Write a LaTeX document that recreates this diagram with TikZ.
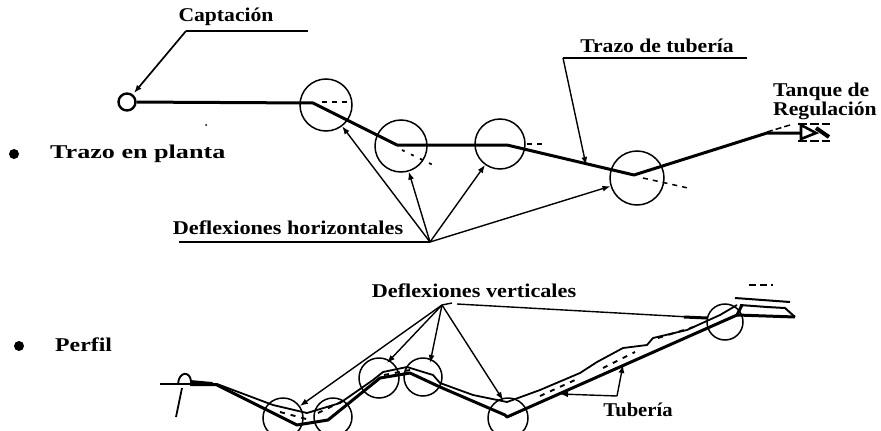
\documentclass[tikz,border=0pt]{standalone}
\usepackage{fontspec}
\setmainfont{Liberation Serif}[BoldFont={Liberation Serif Bold}]
\usetikzlibrary{arrows.meta}
\tikzset{
  x=1pt,y=-1pt,
  lbl/.style={font=\fontsize{19.5}{19}\selectfont\bfseries\addfontfeature{FakeStretch=#1},inner sep=0pt,anchor=center,text=black},
  bend/.style={circle,draw=black,line width=1.5pt,minimum size=#1,inner sep=0pt},
  pipe/.style={line width=3pt,line join=round,black},
  thinpipe/.style={line width=1.8pt,line join=round,black},
  lead/.style={line width=1.4pt,black},
  pointer/.style={lead,-{Latex[length=8pt,width=6pt]}},
  tang/.style={line width=1.5pt,dash pattern=on 5pt off 5pt,black},
  blt/.style={circle,fill=black,minimum size=10pt,inner sep=0pt},
  fleck/.style={line width=1.9pt,dash pattern=on 5pt off 6pt,black}
}
\begin{document}
\begin{tikzpicture}
\useasboundingbox (0,0) rectangle (881,431);
% labels
\node[lbl=1.11] (capt) at (226,17) {Captación};
\node[lbl=1.11] (traz) at (657,46) {Trazo de tubería};
\node[lbl=1.11,align=left,anchor=west] (tanq) at (773,101) {Tanque de\\Regulación};
\node[blt] (b1) at (14,154) {};
\node[lbl=1.34,anchor=west] (plan) at (50,154) {Trazo en planta};
\node[lbl=1.14] (dhor) at (288,228) {Deflexiones horizontales};
\node[blt] (b2) at (19,346) {};
\node[lbl=1.22,anchor=west] (perf) at (55,345) {Perfil};
\node[lbl=1.14] (dver) at (474,291) {Deflexiones verticales};
\node[lbl=1.06] (tube) at (638,410) {Tubería};
% plan view
\node[circle,draw=black,line width=2.4pt,minimum width=17pt,minimum height=11pt,inner sep=0pt] (src) at (127,102) {};
\node[bend=52pt] (p1) at (326,105) {};
\node[bend=52pt] (p2) at (401,146) {};
\node[bend=50pt] (p3) at (500,144) {};
\node[bend=54pt] (p4) at (637,178) {};
\coordinate (tk) at (800,133);
\draw[pipe] (src) -- (313,103) -- (397,145) -- (507,145) -- (634,175) -- (767,133) -- (tk);
\draw[tang] (322,102) -- (349,102);
\draw[tang,line width=1.7pt,dash pattern=on 3pt off 7pt] (402,150) -- (433,165);
\draw[tang] (527,144) -- (545,144);
\draw[tang] (643,178) -- (688,188);
% tank
\draw[line width=2.6pt,black] (801,125) -- (801,139) -- (816,133) -- cycle;
\draw[line width=2pt,dash pattern=on 9pt off 3pt] (798,124) -- (830,124);
\draw[line width=2pt,dash pattern=on 9pt off 3pt] (798,141) -- (830,141);
\draw[line width=4pt] (816,128) -- (829,137);
\draw[line width=1.5pt,dash pattern=on 6pt off 3pt] (767,132) -- (790,125);
% plan leaders
\coordinate (fanA) at (430,242);
\coordinate (baseA) at (179,242);
\coordinate (cA1) at (186,31);
\coordinate (cA2) at (308,31);
\coordinate (cAt) at (134,93);
\draw[lead] (cA2) -- (cA1);
\draw[pointer,line width=1.7pt] (cA1) -- (cAt);
\coordinate (tA1) at (563,58);
\coordinate (tA2) at (747,58);
\coordinate (tAt) at (586,165);
\draw[lead] (tA2) -- (tA1);
\draw[pointer] (tA1) -- (tAt);
\draw[lead] (baseA) -- (fanA);
\draw[pointer] (fanA) -- (p1);
\draw[pointer] (fanA) -- (p2);
\draw[pointer] (fanA) -- (p3);
\draw[pointer] (fanA) -- (p4);
\fill (206,125) circle (1pt);
% profile
\node[bend=40pt] (v1) at (283,418) {};
\node[bend=38pt] (v2) at (333,417) {};
\node[bend=40pt] (v3) at (379,378) {};
\node[bend=38pt] (v4) at (423,377) {};
\node[bend=40pt] (v5) at (508,418) {};
\node[bend=36pt] (v6) at (725,322) {};
% pipe lower
\draw[pipe] (217,385) -- (297,425) -- (328,420) -- (380,378) -- (410,373) -- (440,387) -- (505,415) -- (507,417) -- (737,315) -- (742,305);
% ground upper
\draw[thinpipe] (160,384) -- (217,384) -- (273,405) -- (307,413) -- (340,403) -- (373,380) -- (383,372) -- (407,367) -- (433,375) -- (440,383) -- (473,395) -- (507,402) -- (540,390) -- (580,373) -- (597,362) -- (623,348) -- (647,345) -- (653,338) -- (687,330) -- (720,315) -- (737,305);
% hump at start
\draw[line width=1.9pt] (178,384) .. controls (179,371) and (190,371) .. (191,381);
\draw[line width=1.8pt] (182,388) -- (176,417);
\fill (190,380) -- (212,382) -- (218,386) -- (190,386) -- cycle;
% flecks between lines
\draw[fleck] (280,412) -- (310,420);
\draw[fleck] (318,413) -- (345,400);
\draw[fleck] (384,375) -- (410,370);
\draw[fleck] (540,396) -- (575,380);
\draw[fleck] (603,368) -- (635,352);
\draw[fleck] (658,338) -- (700,325);
% right tank
\draw[line width=2pt,line join=round] (740,305) -- (767,307) -- (785,308) -- (795,317);
\draw[pipe] (795,317) -- (737,315);
\draw[line width=2pt] (735,298) -- (790,302);
\draw[line width=1.5pt,dash pattern=on 7pt off 4pt] (749,285) -- (773,285);
% profile leaders
\coordinate (fanB) at (442,305);
\coordinate (fanBr) at (457,304);
\coordinate (vEnd) at (707,318);
\coordinate (vThick) at (684,317);
\coordinate (a3) at (387,363);
\coordinate (a4) at (430,363);
\coordinate (a5) at (503,400);
\draw[lead] (fanB) -- (452,303);
\draw[pointer] (fanB) -- (v1);
\draw[pointer] (fanB) -- (a3);
\draw[pointer] (fanB) -- (a4);
\draw[pointer] (fanB) -- (a5);
\draw[lead] (fanBr) -- (vEnd);
\draw[line width=3pt] (vThick) -- (vEnd);
% tuberia leaders
\coordinate (tuK) at (617,396);
\draw[pointer] (tuK) -- (623,365);
\draw[pointer] (tuK) -- (560,394);
\end{tikzpicture}
\end{document}
